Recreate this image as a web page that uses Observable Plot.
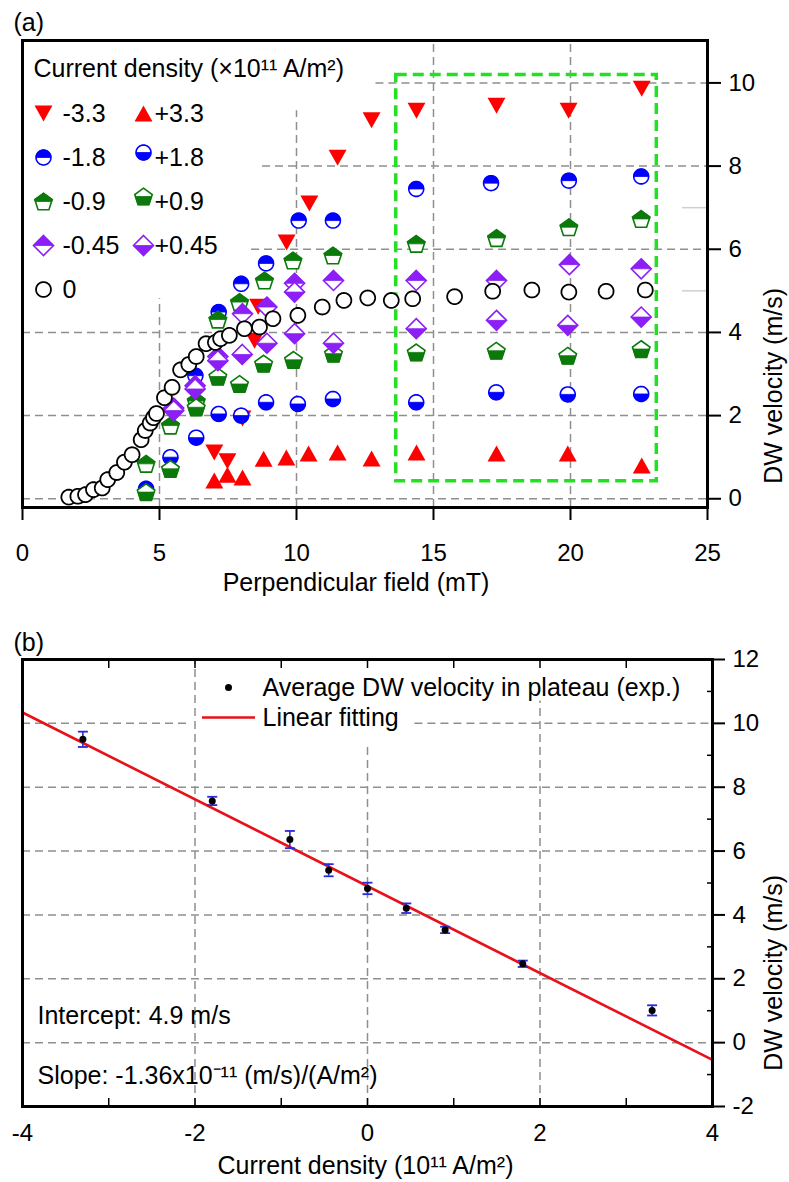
<!DOCTYPE html>
<html><head><meta charset="utf-8">
<script src="https://cdn.jsdelivr.net/npm/d3@7"></script>
<script src="https://cdn.jsdelivr.net/npm/@observablehq/plot@0.6"></script>
<style>
body{margin:0;background:#fff;}
#wrap{width:789px;height:1182px;background:#fff;}
#wrap svg{display:block;}
</style></head><body><div id="wrap"></div>
<script>
// ---------------- Panel (a) data: DW velocity (m/s) vs perpendicular field (mT) ----------------
const neg33X = [7.0, 7.48, 8.03, 8.47, 8.6, 9.64, 10.47, 11.5, 12.74, 14.38, 17.3, 19.93, 22.6];
const neg33Y = [1.11, 0.9, 1.93, 3.8, 4.62, 6.16, 7.1, 8.2, 9.1, 9.33, 9.45, 9.33, 9.86];
const pos33X = [7.0, 7.48, 8.03, 8.8, 9.63, 10.44, 11.5, 12.74, 14.38, 17.3, 19.9, 22.6];
const pos33Y = [0.44, 0.58, 0.51, 0.96, 0.99, 1.09, 1.11, 0.97, 1.11, 1.09, 1.09, 0.8];
const neg18X = [4.51, 6.31, 7.16, 7.98, 8.89, 10.08, 11.33, 14.37, 17.1, 19.94, 22.58];
const neg18Y = [0.24, 2.96, 4.49, 5.17, 5.66, 6.69, 6.69, 7.45, 7.59, 7.65, 7.75];
const pos18X = [5.40, 6.34, 7.16, 7.98, 8.89, 10.05, 11.33, 14.37, 17.29, 19.9, 22.58];
const pos18Y = [1.0, 1.47, 2.04, 2.0, 2.32, 2.28, 2.40, 2.32, 2.56, 2.51, 2.52];
const neg09X = [4.51, 5.40, 6.34, 7.13, 7.92, 8.83, 9.87, 11.33, 14.37, 17.3, 19.94, 22.58];
const neg09Y = [0.84, 1.76, 2.35, 4.31, 4.73, 5.25, 5.73, 5.85, 6.13, 6.27, 6.53, 6.73];
const pos09X = [4.51, 5.40, 6.34, 7.13, 7.92, 8.80, 9.89, 11.35, 14.37, 17.29, 19.9, 22.58];
const pos09Y = [0.16, 0.72, 2.2, 2.94, 2.76, 3.25, 3.34, 3.49, 3.52, 3.56, 3.44, 3.6];
const neg045X = [5.52, 6.30, 7.13, 8.03, 8.92, 9.93, 11.35, 14.37, 17.3, 19.96, 22.58];
const neg045Y = [2.18, 2.72, 3.42, 4.45, 4.61, 5.18, 5.25, 5.25, 5.25, 5.63, 5.53];
const pos045X = [5.52, 6.30, 7.13, 8.02, 8.92, 9.93, 9.93, 11.35, 14.37, 17.3, 19.9, 22.58];
const pos045Y = [2.12, 2.64, 3.32, 3.47, 3.74, 3.97, 4.97, 3.74, 4.09, 4.29, 4.17, 4.37];
const zeroX = [1.69, 2.02, 2.30, 2.59, 2.91, 3.11, 3.44, 3.72, 4.00, 4.33, 4.48, 4.66, 4.78, 4.89, 5.18, 5.46, 5.77, 6.07, 6.34, 6.70, 7.04, 7.23, 7.55, 8.10, 8.65, 9.14, 10.05, 10.94, 11.73, 12.60, 13.46, 14.24, 15.77, 17.16, 18.59, 19.94, 21.30, 22.73];
const zeroY = [0.04, 0.06, 0.10, 0.22, 0.26, 0.46, 0.63, 0.88, 1.06, 1.42, 1.64, 1.82, 1.95, 2.05, 2.43, 2.68, 3.10, 3.23, 3.42, 3.73, 3.76, 3.85, 3.93, 4.09, 4.13, 4.33, 4.41, 4.61, 4.77, 4.83, 4.77, 4.81, 4.86, 4.99, 5.02, 4.97, 4.99, 5.02];

const legendTitleA = "Current density (×10¹¹ A/m²)";
const legendLabelsA = ["-3.3", "+3.3", "-1.8", "+1.8", "-0.9", "+0.9", "-0.45", "+0.45", "0"];
const xTicksA = [0, 5, 10, 15, 20, 25];
const yTicksA = [0, 2, 4, 6, 8, 10];
const yMinorA = [5, 7];
const xDomA = [0, 25];
const yDomA = [-0.21, 11.02];
// dashed grid lines (partly hidden behind the legend area in the original)
const hGridA = [0, 2, 4, 6, 8, 10];
const hGridAFrom = [0, 0, 0, 8.36, 8.76, 12.9];
const vGridA = [5, 10, 15, 20];
const vGridATo = [4.81, 9.33, 11.02, 11.02];
// plateau region box (green dashed)
const boxX = [13.64, 23.15];
const boxY = [0.42, 10.19];
const xTitleA = "Perpendicular field (mT)";
const yTitle = "DW velocity (m/s)";

// ---------------- Panel (b) data ----------------
const bCurrent = [-3.3, -1.8, -0.9, -0.45, 0, 0.45, 0.9, 1.8, 3.3];
const bVel = [9.5, 7.57, 6.36, 5.40, 4.83, 4.21, 3.53, 2.47, 1.01];
const bErr = [0.24, 0.13, 0.27, 0.19, 0.18, 0.15, 0.10, 0.10, 0.16];
const fitX = [-4, 4];
const fitY = [10.34, -0.54];
const xTicksB = [-4, -2, 0, 2, 4];
const xMinorB = [-3, -2, -1, 0, 1, 2, 3];
const yTicksB = [-2, 0, 2, 4, 6, 8, 10, 12];
const yMinorB = [-1, 1, 3, 5, 7, 9, 11];
const xDomB = [-4, 4];
const yDomB = [-2, 12];
const hGridB = [0, 2, 4, 6, 8, 10, 10];
const hGridBFrom = [-4, -4, -4, -4, -4, -4, 0.55];
const hGridBTo = [4, 4, 4, 4, 4, -2.06, 4];
const vGridB = [-2, 0, 2];
const vGridBTo = [12, 9.35, 10.7];
const legendB = ["Average DW velocity in plateau (exp.)", "Linear fitting"];
const interceptText = "Intercept: 4.9 m/s";
const slopeText = "Slope: -1.36x10⁻¹¹ (m/s)/(A/m²)";
const xTitleB = "Current density (10¹¹ A/m²)";

// ---------------- symbols ----------------
function clipHalf(pts, top) {
  const out = [];
  const inside = p => top ? p[1] <= 0 : p[1] >= 0;
  for (let i = 0; i < pts.length; i++) {
    const a = pts[i], b = pts[(i + 1) % pts.length];
    const ia = inside(a), ib = inside(b);
    if (ia) out.push(a);
    if (ia !== ib) { const t = a[1] / (a[1] - b[1]); out.push([a[0] + t * (b[0] - a[0]), 0]); }
  }
  return out;
}
const shapes = {
  circle: r => d3.range(48).map(k => [0.93 * r * Math.cos(2 * Math.PI * k / 48), 0.93 * r * Math.sin(2 * Math.PI * k / 48)]),
  triDown: r => [[-1.12 * r, -r], [1.12 * r, -r], [0, r]],
  triUp: r => [[0, -r], [1.12 * r, r], [-1.12 * r, r]],
  pentagon: r => { const R = 1.15 * r, s = 0.0955 * R; return d3.range(5).map(k => { const a = -Math.PI / 2 + k * 2 * Math.PI / 5; return [R * Math.cos(a), R * Math.sin(a) + s]; }); },
  diamond: r => [[0, -1.25 * r], [1.25 * r, 0], [0, 1.25 * r], [-1.25 * r, 0]]
};
function sym(shape, half) {
  return { draw(ctx, size) {
    const r = Math.sqrt(size / Math.PI);
    let pts = shapes[shape](r);
    if (half) pts = clipHalf(pts, half === "top");
    ctx.moveTo(pts[0][0], pts[0][1]);
    for (let i = 1; i < pts.length; i++) ctx.lineTo(pts[i][0], pts[i][1]);
    ctx.closePath();
  } };
}
const capSym = { draw(ctx) { ctx.moveTo(-5, 0); ctx.lineTo(5, 0); } };
const lineSym = { draw(ctx) { ctx.moveTo(-26.5, 0); ctx.lineTo(26.5, 0); } };

const RED = "#ff0000", BLUE = "#0000ff", GREEN = "#0b7a0b", PURPLE = "#8b1ff5";
const GRID = { stroke: "#8f8f8f", strokeDasharray: "8,5", strokeWidth: 1.5 };

function markerMarks(data, opts, shape, color, half) {
  if (half === "solid") return [Plot.dot(data, { ...opts, r: 8, symbol: sym(shape), fill: color, stroke: "none" })];
  if (half === "open") return [Plot.dot(data, { ...opts, r: 8, symbol: sym(shape), fill: "white", stroke: color, strokeWidth: 1.8 })];
  return [
    Plot.dot(data, { ...opts, r: 8, symbol: sym(shape), fill: "white", stroke: color, strokeWidth: 1.6 }),
    Plot.dot(data, { ...opts, r: 8, symbol: sym(shape, half), fill: color, stroke: color, strokeWidth: 0.8 })
  ];
}
const pts = (xs, ys) => xs.map((x, i) => ({ x, y: ys[i] }));

const seriesA = [
  { xs: neg33X, ys: neg33Y, shape: "triDown", color: RED, half: "solid", label: legendLabelsA[0] },
  { xs: pos33X, ys: pos33Y, shape: "triUp", color: RED, half: "solid", label: legendLabelsA[1] },
  { xs: neg18X, ys: neg18Y, shape: "circle", color: BLUE, half: "top", label: legendLabelsA[2] },
  { xs: pos18X, ys: pos18Y, shape: "circle", color: BLUE, half: "bottom", label: legendLabelsA[3] },
  { xs: neg09X, ys: neg09Y, shape: "pentagon", color: GREEN, half: "top", label: legendLabelsA[4] },
  { xs: pos09X, ys: pos09Y, shape: "pentagon", color: GREEN, half: "bottom", label: legendLabelsA[5] },
  { xs: neg045X, ys: neg045Y, shape: "diamond", color: PURPLE, half: "top", label: legendLabelsA[6] },
  { xs: pos045X, ys: pos045Y, shape: "diamond", color: PURPLE, half: "bottom", label: legendLabelsA[7] },
  { xs: zeroX, ys: zeroY, shape: "circle", color: "#000", half: "open", label: legendLabelsA[8] }
];

const FONT = "'Liberation Sans', Arial, sans-serif";
const styleObj = { fontFamily: FONT, fontSize: "24px", color: "black", background: "white" };
const TXT = { fill: "black", fontSize: 25 };
const hyphen = d => String(d);

// legend layout (offsets from the top-left corner of the frame)
const legendMarksA = [];
legendMarksA.push(Plot.text([legendTitleA], { frameAnchor: "top-left", dx: 11, dy: 28, text: d => d, textAnchor: "start", lineAnchor: "middle", ...TXT }));
seriesA.forEach((s, i) => {
  const row = Math.floor(i / 2), col = i % 2;
  const dy = 73 + row * 44;
  const symDx = col === 0 ? 21 : 121;
  const txtDx = col === 0 ? 40 : 132;
  const symDy = (col === 1 && (i === 3 || i === 5)) ? dy - 5 : dy;
  legendMarksA.push(...markerMarks([0], { frameAnchor: "top-left", dx: symDx, dy: symDy }, s.shape, s.color, s.half));
  legendMarksA.push(Plot.text([s.label], { frameAnchor: "top-left", dx: txtDx, dy: dy, text: d => d, textAnchor: "start", lineAnchor: "middle", ...TXT }));
});

const plotA = Plot.plot({
  width: 789, height: 600,
  marginLeft: 22, marginRight: 82, marginTop: 40, marginBottom: 93,
  x: { domain: xDomA }, y: { domain: yDomA },
  style: styleObj,
  marks: [
    Plot.ruleY(hGridA, { y: d => d, x1: (d, i) => hGridAFrom[i], x2: xDomA[1], ...GRID }),
    Plot.ruleX(vGridA, { x: d => d, y1: yDomA[0], y2: (d, i) => vGridATo[i], ...GRID }),
    Plot.axisY(yMinorA, { anchor: "right", tickSize: -26, stroke: "#cfcfcf", strokeWidth: 1.5, tickFormat: () => "", label: null }),
    Plot.rect([0], { x1: boxX[0], x2: boxX[1], y1: boxY[0], y2: boxY[1], fill: "none", stroke: "#22e022", strokeWidth: 3.5, strokeDasharray: "11,6" }),
    ...seriesA.flatMap(s => markerMarks(pts(s.xs, s.ys), { x: "x", y: "y" }, s.shape, s.color, s.half)),
    ...legendMarksA,
    Plot.axisX(xTicksA, { anchor: "bottom", tickSize: 13, tickPadding: 23, strokeWidth: 2, tickFormat: hyphen, label: null }),
    Plot.axisY(yTicksA, { anchor: "right", tickSize: 13, tickPadding: 8, strokeWidth: 2, tickFormat: hyphen, label: null }),
    Plot.frame({ stroke: "black", strokeWidth: 3 }),
    Plot.text([xTitleA], { frameAnchor: "bottom", dx: -9, dy: 75, text: d => d, lineAnchor: "middle", ...TXT }),
    Plot.text([yTitle], { frameAnchor: "right", dx: 66, dy: 14, rotate: -90, text: d => d, lineAnchor: "middle", ...TXT }),
    Plot.text(["(a)"], { frameAnchor: "top-left", dx: -9, dy: -18, text: d => d, textAnchor: "start", lineAnchor: "middle", ...TXT })
  ]
});

const bData = bCurrent.map((x, i) => ({ x, y: bVel[i], lo: bVel[i] - bErr[i], hi: bVel[i] + bErr[i] }));
const fitData = fitX.map((x, i) => ({ x, y: fitY[i] }));
const hGridBData = hGridB.map((y, i) => ({ y, x1: hGridBFrom[i], x2: hGridBTo[i] }));

const plotB = Plot.plot({
  width: 789, height: 582,
  marginLeft: 22, marginRight: 77, marginTop: 59, marginBottom: 76,
  x: { domain: xDomB }, y: { domain: yDomB },
  style: styleObj,
  marks: [
    Plot.ruleY(hGridBData, { y: "y", x1: "x1", x2: "x2", ...GRID }),
    Plot.ruleX(vGridB, { x: d => d, y1: yDomB[0], y2: (d, i) => vGridBTo[i], ...GRID }),
    Plot.line(fitData, { x: "x", y: "y", stroke: "#e8101a", strokeWidth: 2.6 }),
    Plot.ruleX(bData, { x: "x", y1: "lo", y2: "hi", stroke: "#2a2ad8", strokeWidth: 1.6 }),
    Plot.dot(bData, { x: "x", y: "lo", symbol: capSym, stroke: "#2a2ad8", strokeWidth: 1.8 }),
    Plot.dot(bData, { x: "x", y: "hi", symbol: capSym, stroke: "#2a2ad8", strokeWidth: 1.8 }),
    Plot.dot(bData, { x: "x", y: "y", r: 3.5, fill: "black" }),
    // legend
    Plot.dot([0], { frameAnchor: "top-left", dx: 206, dy: 28, r: 3.5, fill: "black" }),
    Plot.text([legendB[0]], { frameAnchor: "top-left", dx: 240, dy: 28, text: d => d, textAnchor: "start", lineAnchor: "middle", ...TXT }),
    Plot.dot([0], { frameAnchor: "top-left", dx: 206, dy: 58, symbol: lineSym, stroke: "#e8101a", strokeWidth: 2.6 }),
    Plot.text([legendB[1]], { frameAnchor: "top-left", dx: 240, dy: 58, text: d => d, textAnchor: "start", lineAnchor: "middle", ...TXT }),
    Plot.text([interceptText], { frameAnchor: "bottom-left", dx: 15, dy: -91, text: d => d, textAnchor: "start", lineAnchor: "middle", ...TXT }),
    Plot.text([slopeText], { frameAnchor: "bottom-left", dx: 15, dy: -31, text: d => d, textAnchor: "start", lineAnchor: "middle", ...TXT }),
    // axes
    Plot.axisX(xTicksB, { anchor: "bottom", tickSize: 0, tickPadding: 17, tickFormat: hyphen, label: null }),
    Plot.axisX(xMinorB, { anchor: "bottom", tickSize: -8, strokeWidth: 1.5, tickFormat: () => "", label: null }),
    Plot.axisX(xMinorB, { anchor: "top", tickSize: -8, strokeWidth: 1.5, tickFormat: () => "", label: null }),
    Plot.axisY(yTicksB, { anchor: "right", tickSize: 12, tickPadding: 8, strokeWidth: 2, tickFormat: hyphen, label: null }),
    Plot.axisY(yMinorB, { anchor: "right", tickSize: -6, strokeWidth: 1.5, tickFormat: () => "", label: null }),
    Plot.frame({ stroke: "black", strokeWidth: 3 }),
    Plot.text([xTitleB], { frameAnchor: "bottom", dx: -2, dy: 59, text: d => d, lineAnchor: "middle", ...TXT }),
    Plot.text([yTitle], { frameAnchor: "right", dx: 61, dy: -8, rotate: -90, text: d => d, lineAnchor: "middle", ...TXT }),
    Plot.text(["(b)"], { frameAnchor: "top-left", dx: -9, dy: -17, text: d => d, textAnchor: "start", lineAnchor: "middle", ...TXT })
  ]
});

const wrap = document.getElementById("wrap");
wrap.appendChild(plotA);
wrap.appendChild(plotB);
</script></body></html>
